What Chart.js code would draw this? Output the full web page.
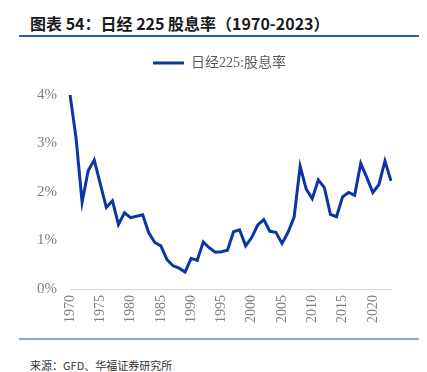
<!DOCTYPE html>
<html>
<head>
<meta charset="utf-8">
<script src="https://cdn.jsdelivr.net/npm/chart.js@4.4.0/dist/chart.umd.min.js"></script>
<style>
    body { margin: 0; background: #fff; }
    .page { position: relative; width: 427px; height: 372px; overflow: hidden; }
    .title {
        position: absolute; left: 30px; top: 11px;
        font: bold 16px "Noto Sans CJK SC", "Liberation Sans", sans-serif;
        color: #1a1a1a; white-space: nowrap;
    }
    .rule-top { position: absolute; left: 19px; top: 35px; width: 400px; height: 2px; background: #2B5CAA; }
    .rule-bottom { position: absolute; left: 19px; top: 338px; width: 400px; height: 2px; background: #8FA8D6; }
    .source {
        position: absolute; left: 30px; top: 357px;
        font: 11px "Noto Sans CJK SC", "Liberation Sans", sans-serif;
        color: #333; white-space: nowrap;
    }
    .chart-box { position: absolute; left: 0; top: 42px; width: 427px; height: 294px; }
</style>
</head>
<body>
<div class="page">
    <div class="title">图表 54：日经 225 股息率（1970-2023）</div>
    <div class="rule-top"></div>
    <div class="chart-box"><canvas id="chart"></canvas></div>
    <div class="rule-bottom"></div>
    <div class="source">来源：GFD、华福证券研究所</div>
</div>
<script>
const years = [];
for (let y = 1970; y <= 2023; y++) years.push(String(y));

const seriesName = '日经225:股息率';

// dividend yield, %
const dividendYield = [
    4.01, 3.11, 1.79, 2.44, 2.66, 2.17, 1.68, 1.82, 1.33, 1.57,
    1.47, 1.50, 1.53, 1.16, 0.96, 0.89, 0.61, 0.48, 0.43, 0.35,
    0.63, 0.59, 0.97, 0.85, 0.76, 0.77, 0.80, 1.18, 1.22, 0.89,
    1.06, 1.32, 1.43, 1.19, 1.17, 0.94, 1.17, 1.48, 2.53, 2.06,
    1.86, 2.25, 2.09, 1.54, 1.49, 1.90, 1.99, 1.93, 2.59, 2.30,
    1.99, 2.15, 2.64, 2.23
];

const yTicks = [0, 1, 2, 3, 4];

const lineColor = '#0B36A3';
const tickColor = '#808080';
const serif = "'Liberation Serif', 'Times New Roman', serif";

// more room under the legend, and nudge it to the right like the original
const legendTweak = {
    id: 'legendTweak',
    beforeInit(chart) {
        const fit = chart.legend.fit;
        chart.legend.fit = function () {
            fit.bind(chart.legend)();
            this.height += 15;
        };
    },
    afterLayout(chart) {
        chart.legend.left += 24;
        chart.legend.right += 24;
    }
};

new Chart(document.getElementById('chart'), {
    type: 'line',
    data: {
        labels: years,
        datasets: [{
            label: seriesName,
            data: dividendYield,
            borderColor: lineColor,
            backgroundColor: lineColor,
            borderWidth: 3,
            pointRadius: 0,
            tension: 0,
            fill: false
        }]
    },
    plugins: [legendTweak],
    options: {
        responsive: true,
        maintainAspectRatio: false,
        animation: false,
        layout: { padding: { left: 0, right: 36, top: 0, bottom: 0 } },
        plugins: {
            legend: {
                position: 'top',
                labels: {
                    usePointStyle: true,
                    pointStyle: 'line',
                    pointStyleWidth: 31,
                    boxHeight: 12,
                    padding: 14,
                    color: '#595959',
                    font: { family: "'Liberation Serif', 'Noto Sans CJK SC', serif", size: 14 }
                }
            },
            tooltip: { enabled: false }
        },
        scales: {
            x: {
                offset: false,
                grid: { display: false, drawTicks: false },
                border: { display: true, color: '#d9d9d9', width: 1 },
                ticks: {
                    autoSkip: false,
                    maxRotation: 90,
                    minRotation: 90,
                    padding: 6,
                    color: tickColor,
                    font: { family: serif, size: 14 },
                    callback: function (value, index) {
                        const label = this.getLabelForValue(value);
                        return Number(label) % 5 === 0 ? label : null;
                    }
                },
                afterFit: (scale) => { scale.height = 47; }
            },
            y: {
                min: 0,
                max: 4,
                afterBuildTicks: (scale) => { scale.ticks = yTicks.map(v => ({ value: v })); },
                grid: { display: false, drawTicks: false },
                border: { display: false },
                ticks: {
                    padding: 13,
                    color: tickColor,
                    font: { family: serif, size: 15 },
                    callback: (v) => v + '%'
                },
                afterFit: (scale) => { scale.width = 70; }
            }
        }
    }
});
</script>
</body>
</html>
